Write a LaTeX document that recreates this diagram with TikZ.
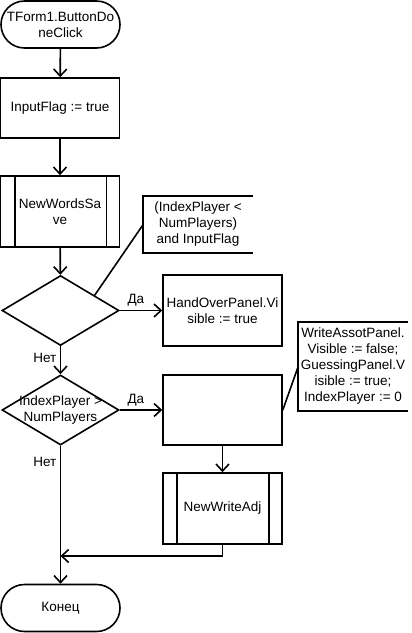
\documentclass[tikz,border=0pt]{standalone}
\usepackage{fontspec}
\setmainfont{Liberation Sans}
\usetikzlibrary{shapes.geometric,arrows.meta}
\begin{document}
\begin{tikzpicture}[x=1pt,y=-1pt,line width=1.6pt,font=\fontsize{13.5}{16}\selectfont,
	>={Straight Barb[length=7pt,width=13pt]},
	box/.style={draw,minimum width=119pt,minimum height=71pt,inner sep=0pt,align=center},
	term/.style={box,minimum height=47pt,rounded corners=23.5pt},
	cond/.style={draw,diamond,minimum width=117pt,minimum height=70pt,inner sep=0pt,align=center},
	note/.style={minimum width=108pt,inner sep=0pt,align=center}]
	\useasboundingbox(0,0)rectangle(412,633);
	\node[term](start)at(60.5,24.5){TForm1.ButtonDo\\neClick};
	\node[box,minimum height=60pt](flag)at(60,108){InputFlag := true};
	\node[box](save)at(60,211.5){NewWordsSa\\ve};
	\node[cond](cond1)at(60.5,310.5){};
	\node[note,minimum height=55pt](note1)at(198,224.5){(IndexPlayer <\\NumPlayers)\\and InputFlag};
	\node[box](hand)at(222.5,310.5){HandOverPanel.Vi\\sible := true};
	\node[cond,label={[align=center]center:IndexPlayer >\\NumPlayers}](cond2)at(60.5,410){};
	\node[box,minimum height=70pt](act)at(222.5,410){};
	\node[note,minimum height=87pt](note2)at(353,366.5){WriteAssotPanel.\\Visible := false;\\GuessingPanel.V\\isible := true;\\IndexPlayer := 0};
	\node[box](adj)at(222.5,508.5){NewWriteAdj};
	\node[term](finish)at(60.5,608){Конец};
	\coordinate(join)at(60.5,556);
	\draw([xshift=15pt]save.north west)--([xshift=15pt]save.south west)
		([xshift=-14pt]save.north east)--([xshift=-14pt]save.south east)
		([xshift=15pt]adj.north west)--([xshift=15pt]adj.south west)
		([xshift=-14pt]adj.north east)--([xshift=-14pt]adj.south east);
	\draw(note1.north east)--(note1.north west)--(note1.south west)--(note1.south east)
		(note2.north east)--(note2.north west)--(note2.south west)--(note2.south east);
	\draw(cond1.24)--(note1.west) (act.east)--(note2.west);
	\draw[->](start)--(flag);
	\draw[->](flag)--(save);
	\draw[->](save)--(cond1);
	\draw[->](cond1)--node[above,pos=.38]{Да}(hand);
	\draw[->](cond1)--node[left,pos=.4]{Нет}(cond2);
	\draw[->](cond2)--node[above,pos=.38]{Да}(act);
	\draw[->](act)--(adj);
	\draw[->](adj)|-(join);
	\draw[->](cond2)--node[left,pos=.12]{Нет}(finish);
\end{tikzpicture}
\end{document}
